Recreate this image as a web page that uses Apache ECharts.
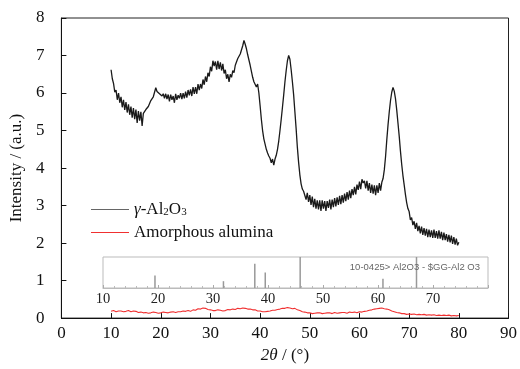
<!DOCTYPE html>
<html>
<head>
<meta charset="utf-8">
<script src="https://cdn.jsdelivr.net/npm/echarts@6/dist/echarts.min.js"></script>
<style>
  html, body { margin: 0; padding: 0; background: #fff; }
  #chart { width: 520px; height: 369px; }
</style>
</head>
<body>
<div id="chart"></div>
<script>
// gamma-Al2O3 scan, 10-80 deg, one reading every 0.25 deg
const scanStart = 10
const scanStep = 0.25
const gammaIntensity = [
  6.62, 6.38, 6.25, 6.02,  6.08, 5.82, 6.00, 5.74,  5.90, 5.62, 5.82, 5.55,
  5.76, 5.48, 5.70, 5.42,  5.64, 5.34, 5.60, 5.30,  5.56, 5.20, 5.52, 5.26,
  5.50, 5.12, 5.46, 5.42,  5.56, 5.54, 5.64, 5.66,  5.80, 5.78, 5.90, 5.92,
  6.14, 6.04, 6.06, 5.98,  6.02, 5.92, 5.98, 5.86,  5.98, 5.84, 5.96, 5.78,
  5.96, 5.82, 5.92, 5.74,  5.98, 5.82, 5.94, 5.86,  6.00, 5.84, 6.00, 5.86,
  6.04, 5.88, 6.08, 5.94,  6.10, 5.92, 6.16, 5.98,  6.16, 5.98, 6.24, 6.08,
  6.24, 6.12, 6.36, 6.22,  6.44, 6.30, 6.54, 6.44,  6.70, 6.58, 6.86, 6.72,
  6.84, 6.62, 6.86, 6.64,  6.82, 6.60, 6.78, 6.52,  6.62, 6.38, 6.50, 6.30,
  6.50, 6.42, 6.60, 6.54,  6.74, 6.70, 6.92, 6.90,  7.04, 7.06, 7.26, 7.40,
  7.30, 7.18, 7.02, 6.88,  6.74, 6.58, 6.42, 6.30,  6.26, 6.16, 6.24, 6.00,
  5.66, 5.30, 5.00, 4.78,  4.64, 4.50, 4.40, 4.32,  4.26, 4.14, 4.24, 4.08,
  4.24, 4.34, 4.50, 4.72,  5.00, 5.30, 5.62, 5.95,  6.30, 6.60, 6.86, 7.00,
  6.90, 6.62, 6.30, 5.95,  5.50, 5.05, 4.55, 4.15,  3.82, 3.58, 3.44, 3.38,
  3.36, 3.16, 3.34, 3.10,  3.28, 3.02, 3.24, 2.96,  3.18, 2.92, 3.14, 2.90,
  3.14, 2.86, 3.14, 2.92,  3.12, 2.86, 3.12, 2.94,  3.16, 2.90, 3.16, 2.96,
  3.20, 2.98, 3.22, 3.02,  3.26, 3.04, 3.28, 3.08,  3.32, 3.12, 3.36, 3.16,
  3.40, 3.20, 3.44, 3.28,  3.50, 3.30, 3.56, 3.42,  3.64, 3.44, 3.70, 3.60,
  3.66, 3.46, 3.66, 3.40,  3.60, 3.34, 3.56, 3.32,  3.54, 3.28, 3.54, 3.34,
  3.60, 3.40, 3.62, 3.72,  3.95, 4.30, 4.75, 5.15,  5.50, 5.80, 6.02, 6.15,
  6.05, 5.85, 5.55, 5.20,  4.85, 4.45, 4.10, 3.80,  3.55, 3.30, 3.08, 2.92,
  2.84, 2.62, 2.68, 2.48,  2.58, 2.38, 2.54, 2.32,  2.46, 2.26, 2.44, 2.22,
  2.40, 2.20, 2.38, 2.16,  2.36, 2.16, 2.34, 2.14,  2.36, 2.14, 2.32, 2.12,
  2.34, 2.12, 2.30, 2.08,  2.28, 2.08, 2.24, 2.04,  2.22, 2.02, 2.20, 1.98,
  2.16, 1.96, 2.12, 1.94,  2.02
]

// amorphous alumina, one reading every 0.5 deg, 10-80
const amorphousStart = 10
const amorphousStep = 0.5
const amorphousIntensity = [
  0.18, 0.20, 0.17, 0.19, 0.19, 0.17, 0.18, 0.20, 0.17, 0.19,
  0.18, 0.15, 0.16, 0.14, 0.15, 0.13, 0.14, 0.16, 0.15, 0.13,
  0.14, 0.16, 0.15, 0.14, 0.16, 0.17, 0.15, 0.17, 0.17, 0.19,
  0.18, 0.20, 0.18, 0.22, 0.21, 0.25, 0.24, 0.27, 0.26, 0.23,
  0.22, 0.20, 0.20, 0.22, 0.21, 0.19, 0.20, 0.23, 0.22, 0.24,
  0.23, 0.26, 0.25, 0.27, 0.26, 0.24, 0.24, 0.22, 0.22, 0.19,
  0.19, 0.17, 0.17, 0.18, 0.19, 0.21, 0.21, 0.23, 0.24, 0.26,
  0.26, 0.28, 0.27, 0.25, 0.26, 0.22, 0.20, 0.17, 0.16, 0.14,
  0.14, 0.12, 0.13, 0.14, 0.14, 0.12, 0.13, 0.14, 0.14, 0.12,
  0.15, 0.13, 0.14, 0.15, 0.15, 0.13, 0.16, 0.15, 0.16, 0.14,
  0.17, 0.16, 0.18, 0.19, 0.21, 0.22, 0.24, 0.25, 0.26, 0.27,
  0.25, 0.24, 0.22, 0.19, 0.17, 0.15, 0.14, 0.12, 0.12, 0.10,
  0.11, 0.10, 0.11, 0.09, 0.10, 0.09, 0.10, 0.08, 0.09, 0.08,
  0.09, 0.07, 0.08, 0.07, 0.08, 0.07, 0.08, 0.06, 0.07, 0.06,
  0.07
]

// PDF card 10-0425 reference lines
const cardPositions = [19.45, 31.9, 37.6, 39.5, 45.85, 60.9, 67.0]
const cardIntensity = [40, 22, 78, 50, 100, 30, 100]

const xTicks = [0, 10, 20, 30, 40, 50, 60, 70, 80, 90]
const yTicks = [0, 1, 2, 3, 4, 5, 6, 7, 8]
const insetTicks = [10, 20, 30, 40, 50, 60, 70]

const serif = '"Liberation Serif", "DejaVu Serif", serif'

const gammaData = gammaIntensity.map((v, i) => [scanStart + i * scanStep, v])
const amorphousData = amorphousIntensity.map((v, i) => [amorphousStart + i * amorphousStep, v])
const cardData = cardPositions.map((p, i) => [p, cardIntensity[i]])

let myChart = echarts.init(document.getElementById('chart'))

let option = {
  animation: false,
  title: {
    text: '10-0425> Al2O3 - $GG-Al2 O3',
    right: 35,
    top: 257,
    textStyle: { fontSize: 9.5, fontWeight: 'normal', color: '#666', fontFamily: 'Arial, "Liberation Sans", sans-serif' }
  },
  legend: {
    orient: 'vertical',
    left: 86,
    top: 196,
    itemWidth: 38,
    itemHeight: 12,
    itemGap: 6,
    icon: 'path://M0,5 L38,5 L38,6 L0,6 Z',
    textStyle: {
      fontFamily: serif,
      fontSize: 17,
      color: '#111',
      rich: {
        it: { fontFamily: serif, fontSize: 17, fontStyle: 'italic', color: '#111' },
        n: { fontFamily: serif, fontSize: 17, color: '#111' },
        sub: { fontFamily: serif, fontSize: 11, color: '#111', verticalAlign: 'bottom', padding: [6, 0, 0, 0] }
      }
    },
    formatter: function (name) {
      if (name === 'gamma') return '{it|γ}{n|-Al}{sub|2}{n|O}{sub|3}'
      return name
    },
    data: [
      { name: 'gamma', itemStyle: { color: '#666' } },
      { name: 'Amorphous alumina', itemStyle: { color: '#f03030' } }
    ]
  },
  grid: [
    { left: 61, top: 18, right: 8, bottom: 47, show: true, borderColor: '#222', borderWidth: 1 },
    { left: 103, top: 257, width: 385, height: 31, show: true, borderColor: '#bbb', borderWidth: 1 }
  ],
  xAxis: [
    {
      type: 'value', gridIndex: 0, min: 0, max: 90, interval: 10,
      name: '{it|2θ} / (°)', nameLocation: 'middle', nameGap: 26,
      nameTextStyle: {
        fontFamily: serif, fontSize: 17, color: '#111',
        rich: { it: { fontFamily: serif, fontSize: 17, fontStyle: 'italic', color: '#111' } }
      },
      axisLine: { lineStyle: { color: '#111', width: 1 } },
      axisTick: { inside: true, length: 5, lineStyle: { color: '#111' } },
      axisLabel: { fontFamily: serif, fontSize: 17, color: '#111', margin: 7 },
      splitLine: { show: false }
    },
    {
      type: 'value', gridIndex: 1, min: 10, max: 80, interval: 10,
      axisLine: { lineStyle: { color: '#bbb' } },
      axisTick: { inside: true, length: 3, lineStyle: { color: '#aaa' } },
      minorTick: { show: true, splitNumber: 5, length: 2, lineStyle: { color: '#bbb' } },
      axisLabel: { fontFamily: serif, fontSize: 14.5, color: '#222', margin: 4, showMaxLabel: false },
      splitLine: { show: false }
    }
  ],
  yAxis: [
    {
      type: 'value', gridIndex: 0, min: 0, max: 8, interval: 1,
      name: 'Intensity / (a.u.)', nameLocation: 'middle', nameGap: 35,
      nameTextStyle: { fontFamily: serif, fontSize: 17, color: '#111' },
      axisLine: { show: true, lineStyle: { color: '#111', width: 1 } },
      axisTick: { show: true, inside: true, length: 5, lineStyle: { color: '#111' } },
      axisLabel: { fontFamily: serif, fontSize: 17, color: '#111', margin: 17 },
      splitLine: { show: false }
    },
    {
      type: 'value', gridIndex: 1, min: 0, max: 100,
      axisLine: { show: false }, axisTick: { show: false },
      axisLabel: { show: false }, splitLine: { show: false }
    }
  ],
  series: [
    {
      name: 'gamma', type: 'line', xAxisIndex: 0, yAxisIndex: 0,
      data: gammaData, showSymbol: false, symbol: 'none',
      lineStyle: { color: '#1a1a1a', width: 1.3 }, itemStyle: { color: '#1a1a1a' }
    },
    {
      name: 'Amorphous alumina', type: 'line', xAxisIndex: 0, yAxisIndex: 0,
      data: amorphousData, showSymbol: false, symbol: 'none',
      lineStyle: { color: '#f03030', width: 1.1 }, itemStyle: { color: '#f03030' }
    },
    {
      name: 'card', type: 'bar', xAxisIndex: 1, yAxisIndex: 1,
      data: cardData, barWidth: 1.5, itemStyle: { color: '#999' }
    }
  ]
}

myChart.setOption(option)
</script>
</body>
</html>
